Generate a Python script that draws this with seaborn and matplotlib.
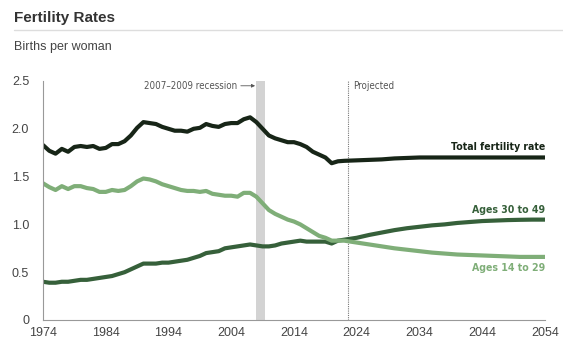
import numpy as np
import pandas as pd
import matplotlib.pyplot as plt
import seaborn as sns

# годы и значения
years = list(range(1974, 2023)) + [2024, 2026, 2028, 2030, 2032, 2034, 2036, 2038, 2040,
                                   2042, 2044, 2046, 2048, 2050, 2052, 2054]

total_rate = [1.83, 1.77, 1.74, 1.79, 1.76, 1.81, 1.82, 1.81, 1.82, 1.79, 1.80, 1.84,
              1.84, 1.87, 1.93, 2.01, 2.07, 2.06, 2.05, 2.02, 2.00, 1.98, 1.98, 1.97,
              2.00, 2.01, 2.05, 2.03, 2.02, 2.05, 2.06, 2.06, 2.10, 2.12, 2.07, 2.00,
              1.93, 1.90, 1.88, 1.86, 1.86, 1.84, 1.81, 1.76, 1.73, 1.70, 1.64, 1.66,
              1.665,
              1.67, 1.675, 1.68, 1.69, 1.695, 1.70, 1.70, 1.70, 1.70,
              1.70, 1.70, 1.70, 1.70, 1.70, 1.70, 1.70]

ages_14_29 = [1.43, 1.39, 1.36, 1.40, 1.37, 1.40, 1.40, 1.38, 1.37, 1.34, 1.34, 1.36,
              1.35, 1.36, 1.40, 1.45, 1.48, 1.47, 1.45, 1.42, 1.40, 1.38, 1.36, 1.35,
              1.35, 1.34, 1.35, 1.32, 1.31, 1.30, 1.30, 1.29, 1.33, 1.33, 1.29, 1.22,
              1.15, 1.11, 1.08, 1.05, 1.03, 1.00, 0.96, 0.92, 0.88, 0.86, 0.83, 0.83,
              0.83,
              0.81, 0.79, 0.77, 0.75, 0.735, 0.72, 0.705, 0.695, 0.685,
              0.68, 0.675, 0.67, 0.665, 0.66, 0.66, 0.66]

ages_30_49 = [0.40, 0.39, 0.39, 0.40, 0.40, 0.41, 0.42, 0.42, 0.43, 0.44, 0.45, 0.46,
              0.48, 0.50, 0.53, 0.56, 0.59, 0.59, 0.59, 0.60, 0.60, 0.61, 0.62, 0.63,
              0.65, 0.67, 0.70, 0.71, 0.72, 0.75, 0.76, 0.77, 0.78, 0.79, 0.78, 0.77,
              0.77, 0.78, 0.80, 0.81, 0.82, 0.83, 0.82, 0.82, 0.82, 0.82, 0.80, 0.83,
              0.84,
              0.86, 0.89, 0.915, 0.94, 0.96, 0.975, 0.99, 1.00, 1.015,
              1.025, 1.035, 1.04, 1.045, 1.048, 1.05, 1.05]

series_names = ['Total fertility rate', 'Ages 30 to 49', 'Ages 14 to 29']
colors = ['#172517', '#36603a', '#7fae78']

x_ticks = [1974, 1984, 1994, 2004, 2014, 2024, 2034, 2044, 2054]
y_ticks = [0, 0.5, 1.0, 1.5, 2.0, 2.5]
y_tick_labels = ['0', '0.5', '1.0', '1.5', '2.0', '2.5']

df = pd.DataFrame({
    'year': years * 3,
    'rate': total_rate + ages_30_49 + ages_14_29,
    'series': [series_names[0]] * len(years) + [series_names[1]] * len(years) + [series_names[2]] * len(years),
})

sns.set_style('white')
plt.rcParams['font.family'] = ['Liberation Sans', 'DejaVu Sans']

fig = plt.figure(figsize=(5.63, 3.43), dpi=100)
ax = fig.add_axes([43 / 563, 1 - 320 / 343, 502 / 563, 239 / 343])

# полоса рецессии
ax.axvspan(2007.9, 2009.4, color='#d3d3d3', lw=0, zorder=0)
# линия прогноза
ax.axvline(2022.6, color='#777777', lw=0.8, ls=(0, (1, 1)), zorder=0)

sns.lineplot(data=df, x='year', y='rate', hue='series', hue_order=series_names,
             palette=colors, lw=3, legend=False, ax=ax)

ax.set_xlim(1974, 2054)
ax.set_ylim(0, 2.5)
ax.set_xticks(x_ticks)
ax.set_yticks(y_ticks)
ax.set_yticklabels(y_tick_labels)
ax.set_xlabel('')
ax.set_ylabel('')
ax.tick_params(axis='x', direction='in', length=4, color='#888888', labelsize=9,
               labelcolor='#444444', pad=5)
ax.tick_params(axis='y', length=0, labelsize=9, labelcolor='#444444', pad=10)
for s in ['top', 'right']:
    ax.spines[s].set_visible(False)
for s in ['left', 'bottom']:
    ax.spines[s].set_color('#999999')
    ax.spines[s].set_linewidth(0.8)

# подписи серий (узкий шрифт)
cond = dict(family='DejaVu Sans', fontstretch='condensed')
ax.text(2054, 1.76, 'Total fertility rate', ha='right', va='bottom', fontsize=7.6,
        fontweight='bold', color=colors[0], **cond)
ax.text(2054, 1.10, 'Ages 30 to 49', ha='right', va='bottom', fontsize=7.6,
        fontweight='bold', color=colors[1], **cond)
ax.text(2054, 0.60, 'Ages 14 to 29', ha='right', va='top', fontsize=7.6,
        fontweight='bold', color=colors[2], **cond)

# аннотации
ax.annotate('2007\u20132009 recession', xy=(2007.8, 2.45), xytext=(2005.0, 2.45),
            ha='right', va='center', fontsize=7, color='#555555', **cond,
            arrowprops=dict(arrowstyle='-|>', color='#555555', lw=0.6,
                            mutation_scale=5, shrinkA=0, shrinkB=0))
ax.text(2023.4, 2.45, 'Projected', ha='left', va='center', fontsize=7, color='#555555',
        **cond)

# заголовок
fig.text(14 / 563, 1 - 18 / 343, 'Fertility Rates', ha='left', va='center',
         fontsize=11, fontweight='bold', color='#333333')
fig.add_artist(plt.Line2D([14 / 563, 1.0], [1 - 30 / 343, 1 - 30 / 343],
                          color='#dddddd', lw=1))
fig.text(14 / 563, 1 - 47 / 343, 'Births per woman', ha='left', va='center',
         fontsize=9, color='#444444')

plt.savefig('out.png', dpi=100)
